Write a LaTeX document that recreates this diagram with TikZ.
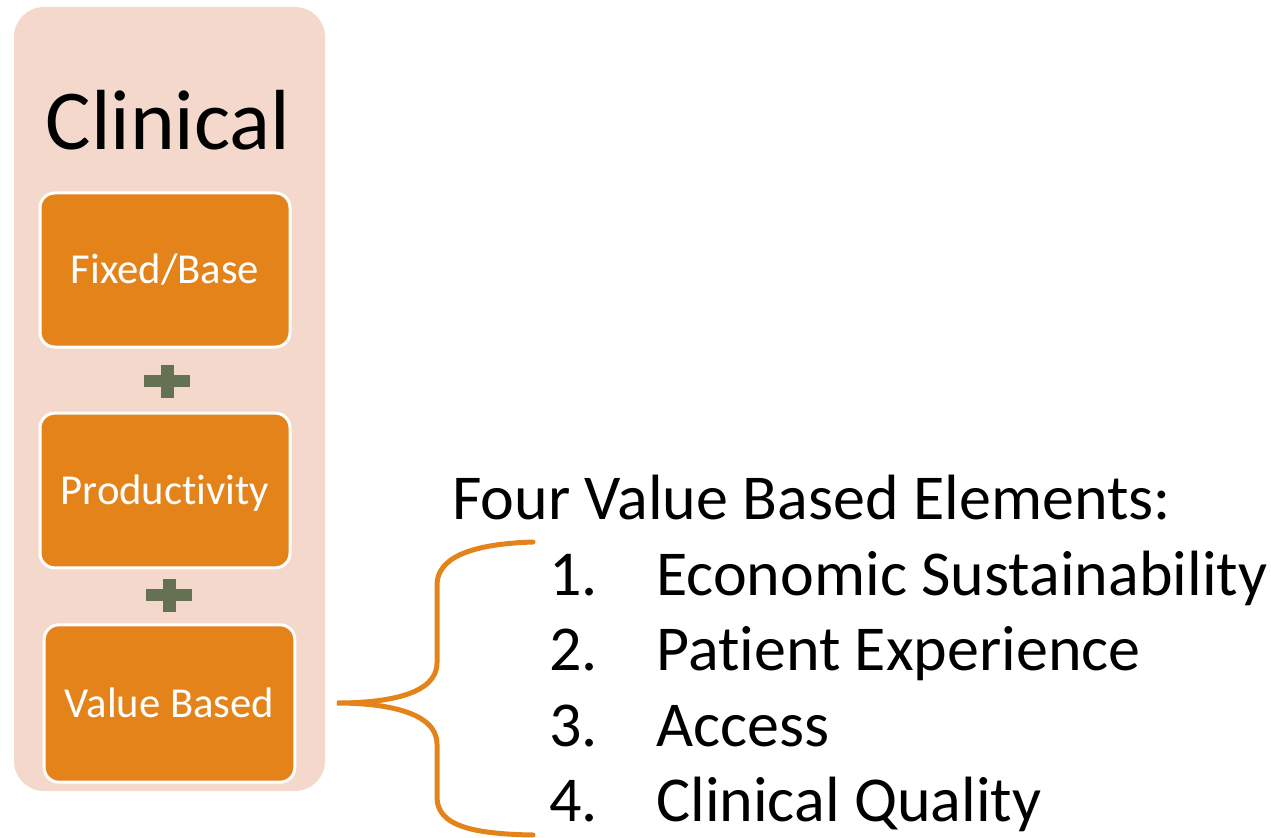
\documentclass[tikz,border=0pt]{standalone}
\usepackage{fontspec}
\setmainfont{Carlito}[Ligatures=NoCommon]
\usepackage{tikz}

\definecolor{panelpink}{HTML}{F5D8CC}
\definecolor{payorange}{HTML}{E3831A}
\definecolor{plusgreen}{HTML}{647253}

\tikzset{
	paybox/.style={shape=rectangle, rounded corners=11pt, fill=payorange, draw=white, line width=2.25pt,
		text=white, font=\fontsize{32pt}{38pt}\selectfont, text height=20.6pt, text depth=0pt},
	plusbar/.style={shape=rectangle, fill=plusgreen, inner sep=0pt, minimum width=34.5pt, minimum height=9pt},
	plusstem/.style={shape=rectangle, fill=plusgreen, inner sep=0pt, minimum width=9.75pt, minimum height=24.75pt},
	listtext/.style={anchor=base west, inner sep=0pt, font=\fontsize{48pt}{56pt}\selectfont}
}

\begin{document}
\begin{tikzpicture}[x=0.75pt, y=-0.75pt]
	\useasboundingbox (0,0) rectangle (1271,838);
	
	% pink panel behind the column
	\fill[panelpink, rounded corners=22.5pt] (14,7) rectangle (325,791);
	\node[anchor=base, inner sep=0pt, font=\fontsize{64pt}{76pt}\selectfont] (clinical) at (168,150) {Clinical};
	
	\node[paybox, minimum width=187.5pt, minimum height=115.5pt] (fixed) at (165,270)   {Fixed/Base};
	\node[paybox, minimum width=187.5pt, minimum height=116pt]   (prod)  at (165,490.5) {Productivity};
	\node[paybox, minimum width=188pt,   minimum height=118pt]   (value) at (169.5,703.5) {Value Based};
	
	% plus signs between the boxes
	\node[plusbar]  (plusA) at (167,381) {};
	\node[plusstem] (plusAs) at (167,381) {};
	\node[plusbar]  (plusB) at (169,595) {};
	\node[plusstem] (plusBs) at (169,595) {};
	
	% brace
	\coordinate (tip)  at (337,703);
	\coordinate (btop) at (533,542);
	\coordinate (bbot) at (533,835);
	\draw[payorange, line width=3.75pt, line cap=round]
		(btop) .. controls (470,544) and (437,558) .. (437,585) -- (437,663)
		.. controls (437,695) and (385,703) .. (tip)
		.. controls (385,703) and (437,712) .. (437,744) -- (437,797)
		.. controls (437,825) and (470,834) .. (bbot);
	
	\node[listtext] (head) at (452,519) {Four Value Based Elements:};
	\foreach \n/\t [count=\i from 0] in {1/Economic Sustainability, 2/Patient Experience, 3/Access, 4/Clinical Quality} {
		\node[listtext] (num\n) at (549,595+75.5*\i) {\n.};
		\node[listtext] (item\n) at (656,595+75.5*\i) {\t};
	}
	
\end{tikzpicture}
\end{document}
